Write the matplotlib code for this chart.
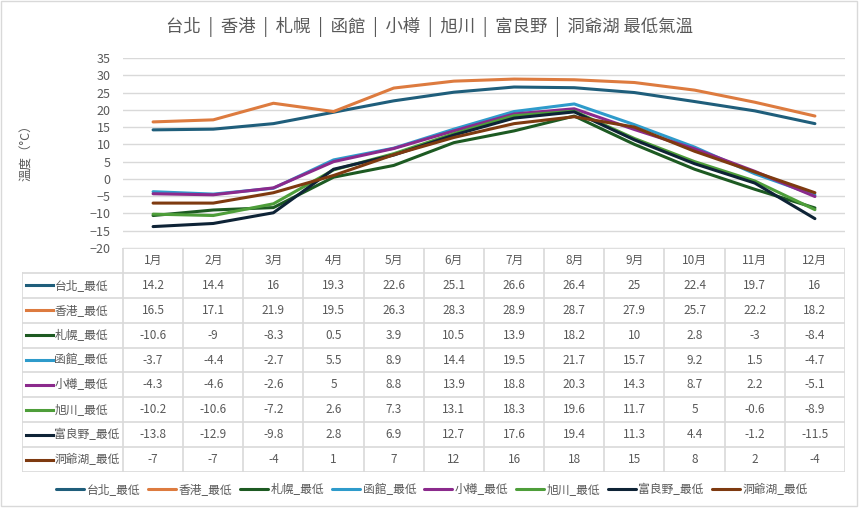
import matplotlib
matplotlib.use("Agg")
import matplotlib.pyplot as plt
from matplotlib.patches import Rectangle

plt.rcParams['font.family'] = ['Noto Sans CJK TC', 'DejaVu Sans']

months = ['1月', '2月', '3月', '4月', '5月', '6月', '7月', '8月', '9月', '10月', '11月', '12月']

names = ['台北_最低', '香港_最低', '札幌_最低', '函館_最低', '小樽_最低', '旭川_最低', '富良野_最低', '洞爺湖_最低']

taipei = [14.2, 14.4, 16, 19.3, 22.6, 25.1, 26.6, 26.4, 25, 22.4, 19.7, 16]
hongkong = [16.5, 17.1, 21.9, 19.5, 26.3, 28.3, 28.9, 28.7, 27.9, 25.7, 22.2, 18.2]
sapporo = [-10.6, -9, -8.3, 0.5, 3.9, 10.5, 13.9, 18.2, 10, 2.8, -3, -8.4]
hakodate = [-3.7, -4.4, -2.7, 5.5, 8.9, 14.4, 19.5, 21.7, 15.7, 9.2, 1.5, -4.7]
otaru = [-4.3, -4.6, -2.6, 5, 8.8, 13.9, 18.8, 20.3, 14.3, 8.7, 2.2, -5.1]
asahikawa = [-10.2, -10.6, -7.2, 2.6, 7.3, 13.1, 18.3, 19.6, 11.7, 5, -0.6, -8.9]
furano = [-13.8, -12.9, -9.8, 2.8, 6.9, 12.7, 17.6, 19.4, 11.3, 4.4, -1.2, -11.5]
toya = [-7, -7, -4, 1, 7, 12, 16, 18, 15, 8, 2, -4]

series = [taipei, hongkong, sapporo, hakodate, otaru, asahikawa, furano, toya]
colors = ['#1F5E7B', '#DD7B3F', '#1D5A22', '#2E9BCB', '#8B2A8C', '#4E9E3A', '#0E2336', '#7E3A10']

W, H = 860, 511
txt = '#595959'
grid = '#D9D9D9'

fig = plt.figure(figsize=(W / 100, H / 100), dpi=100)

def px(l, t, r, b):
    return [l / W, 1 - b / H, (r - l) / W, (b - t) / H]

# chart
ax = fig.add_axes(px(123, 58, 845, 248))
x = list(range(len(months)))
for s, c, n in zip(series, colors, names):
    ax.plot(x, s, color=c, lw=2.2, label=n, solid_capstyle='round')
ax.set_xlim(-0.5, len(months) - 0.5)
ax.set_ylim(-20, 35)
ax.set_yticks(range(-20, 36, 5))
ax.tick_params(axis='y', length=0, pad=9, labelsize=9, labelcolor=txt)
ax.set_xticks([])
ax.grid(axis='y', color=grid, lw=1)
ax.set_axisbelow(True)
for sp in ax.spines.values():
    sp.set_visible(False)

# data table
w = (123 - 22) / ((845 - 123) / 12)
L = -0.5 - w
nrow = len(series)
tab = fig.add_axes(px(22, 248, 845, 472))
tab.set_xlim(L, len(months) - 0.5)
tab.set_ylim(nrow + 1, 0)
tab.axis('off')
lk = dict(color=grid, lw=1.2)
tab.plot([-0.5, len(months) - 0.5], [0, 0], **lk)
for r in range(1, nrow + 2):
    tab.plot([L, len(months) - 0.5], [r, r], **lk)
for k in range(len(months) + 1):
    tab.plot([k - 0.5, k - 0.5], [0, nrow + 1], **lk)
tab.plot([L, L], [1, nrow + 1], **lk)
for j, m in enumerate(months):
    tab.text(j, 0.5, m, ha='center', va='center', fontsize=8.5, color=txt)
for i, (s, c, n) in enumerate(zip(series, colors, names)):
    yy = i + 1.5
    tab.plot([L + 0.07, L + 0.52], [yy, yy], color=c, lw=2.2)
    tab.text(L + 0.54, yy, n, ha='left', va='center', fontsize=8.5, color=txt)
    for j, v in enumerate(s):
        tab.text(j, yy, f'{v:g}', ha='center', va='center', fontsize=8.5, color=txt)

# title / labels
fig.text(0.5, 1 - 27 / H, '台北  |  香港  |  札幌  |  函館  |  小樽  |  旭川  |  富良野  |  洞爺湖 最低氣溫',
         ha='center', va='center', fontsize=12.5, color=txt)
fig.text(27 / W, 1 - 150 / H, '溫度（°C）', rotation=90, ha='center', va='center',
         fontsize=9, color=txt)

fig.legend(loc='center', bbox_to_anchor=(0.502, 1 - 490 / H), ncol=8, frameon=False,
           fontsize=8.5, labelcolor=txt, handlelength=2.4, handletextpad=0.2,
           columnspacing=0.65)

fig.add_artist(Rectangle((1 / W, 1 - 506 / H), 856 / W, 505 / H, transform=fig.transFigure,
                         fill=False, edgecolor='#D9D9D9', lw=1))

fig.savefig('out.png', dpi=100)
